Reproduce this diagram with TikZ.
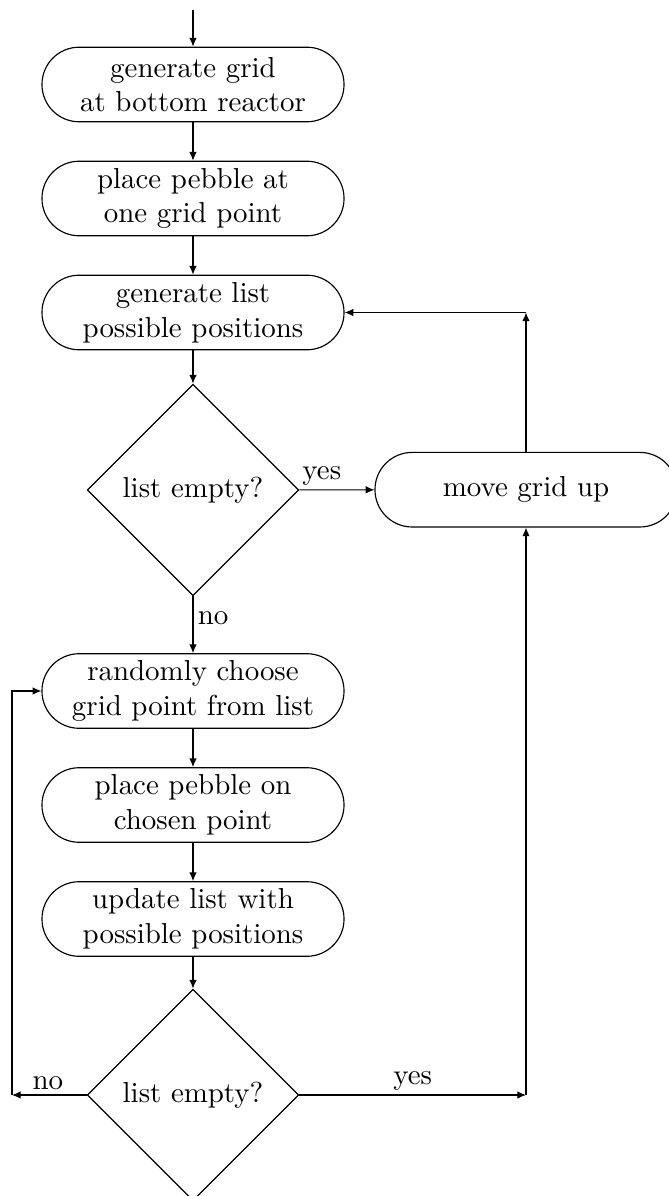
\documentclass[tikz,border=0pt]{standalone}
\usetikzlibrary{shapes.geometric,arrows.meta}
\begin{document}
\begin{tikzpicture}[x=0.346pt,y=-0.346pt,
  term/.style={draw, rectangle, rounded corners=12.85pt, minimum width=104.5pt,
    minimum height=25.8pt, align=center, inner sep=1pt},
  test/.style={draw, diamond, aspect=1, minimum width=73.2pt, minimum height=73.2pt,
    inner sep=0pt},
  flow/.style={-{Latex[length=3pt,width=2.6pt]}},
  lbl/.style={inner sep=1.5pt}]
\useasboundingbox (0,0) rectangle (668,1196);

% main column
\coordinate (start) at (193,10);
\node[term] (genGrid)  at (193,84.5)  {generate grid\\at bottom reactor};
\node[term] (placeOne) at (193,198.5) {place pebble at\\one grid point};
\node[term] (genList)  at (193,312.5) {generate list\\possible positions};
\node[test] (empty1)   at (193,490)   {list empty?};
\node[term] (choose)   at (193,691)   {randomly choose\\grid point from list};
\node[term] (placeSel) at (193,805)   {place pebble on\\chosen point};
\node[term] (update)   at (193,919)   {update list with\\possible positions};
\node[test] (empty2)   at (193,1095)  {list empty?};

% side branch
\node[term] (moveUp)   at (526,489.7) {move grid up};

% corner points of the loops
\coordinate (upCorner)    at (526,312.5);
\coordinate (yesCorner)   at (526,1095);
\coordinate (noCorner)    at (12,1095);
\coordinate (noTop)       at (12,691);

% straight flow
\draw[flow] (start) -- (genGrid);
\draw[flow] (genGrid) -- (placeOne);
\draw[flow] (placeOne) -- (genList);
\draw[flow] (genList) -- (empty1);
\draw[flow] (empty1) -- node[lbl, right, pos=0.38] {no} (choose);
\draw[flow] (choose) -- (placeSel);
\draw[flow] (placeSel) -- (update);
\draw[flow] (update) -- (empty2);

% first decision: yes branch
\draw[flow] (empty1) -- node[lbl, above, pos=0.3] {yes} (moveUp);
\draw[flow] (moveUp) -- (upCorner);
\draw[flow] (upCorner) -- (genList);

% second decision: yes branch
\draw[flow] (empty2) -- node[lbl, above] {yes} (yesCorner);
\draw[flow] (yesCorner) -- (moveUp);

% second decision: no branch
\draw[flow] (empty2) -- node[lbl, above, pos=0.52] {no} (noCorner);
\draw[flow] (noCorner) -- (noTop) -- (choose);
\end{tikzpicture}
\end{document}
